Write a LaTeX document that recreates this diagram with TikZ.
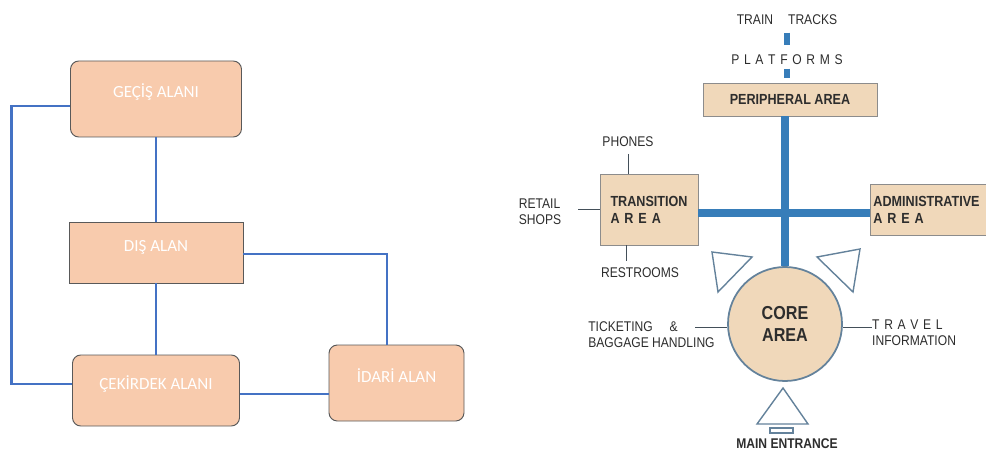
\documentclass[tikz,border=0pt]{standalone}
\usepackage{fontspec}
\usetikzlibrary{positioning,calc}
\newfontfamily\carlito{Carlito}
\newfontfamily\narsans[FakeStretch=0.86]{Liberation Sans}
\definecolor{peach}{RGB}{248,203,173}
\definecolor{sand}{RGB}{240,216,186}
\definecolor{linkblue}{RGB}{68,114,196}
\definecolor{spineblue}{RGB}{55,125,185}
\definecolor{inkgray}{RGB}{45,45,45}
\definecolor{edgegray}{RGB}{140,140,140}
\definecolor{trigray}{RGB}{100,130,155}
\newcommand{\pxl}{0.03cm}

\begin{document}
\begin{tikzpicture}[
  x=\pxl, y=-\pxl,
  alan/.style={draw=black!65,fill=peach,line width=0.8pt,text=white,
               font=\carlito\fontsize{14.5}{16}\selectfont,
               text height=0.33cm,text depth=0.39cm,inner sep=0pt},
  link/.style={draw=linkblue,line width=1.8pt},
  area/.style={draw=edgegray,fill=sand,line width=0.8pt,text=inkgray,
               font=\narsans\bfseries\fontsize{12.5}{14.5}\selectfont},
  lbl/.style={text=inkgray,font=\narsans\fontsize{12}{14}\selectfont,
              inner sep=0pt},
  spine/.style={draw=spineblue,line width=6pt},
  tie/.style={draw=inkgray!60!trigray,line width=0.8pt},
  door/.style={draw=trigray,line width=1.2pt,fill=white,line join=miter}
]
\clip (0,0) rectangle (986,455);

% left: Turkish scheme
\node[alan,rounded corners=0.25cm,minimum width=171*\pxl,minimum height=76*\pxl]
      (gecis) at (156,99) {GEÇİŞ ALANI};
\node[alan,minimum width=174*\pxl,minimum height=61*\pxl]
      (dis) at (156,252.5) {DIŞ ALAN};
\node[alan,rounded corners=0.25cm,minimum width=167*\pxl,minimum height=71*\pxl]
      (cek) at (156,390.5) {ÇEKİRDEK ALANI};
\node[alan,rounded corners=0.25cm,minimum width=135*\pxl,minimum height=76*\pxl]
      (idari) at (396.5,383) {İDARİ ALAN};
\draw[link] (gecis) -- (dis);
\draw[link] (dis) -- (cek);
\draw[link] ($(gecis.west)+(0,7)$) -- ++(-58.5,0) |- ($(cek.west)+(0,-6.5)$);
\draw[link] ($(dis.east)+(0,1.5)$) -| ($(idari.north)+(-9.5,0)$);
\draw[link] ($(cek.east)+(0,3.5)$) -- ($(idari.west)+(0,11)$);

% right: station scheme
\node[lbl] (tracks) at (787,20) {TRAIN\hspace{0.45cm}TRACKS};
\node[lbl] (platforms) at (787,60) {P\,\,L\,\,A\,\,T\,\,F\,\,O\,\,R\,\,M\,\,S};
\node[area,minimum width=174*\pxl,minimum height=33*\pxl]
      (peri) at (790,99.5) {PERIPHERAL AREA};
\node[area,align=left,minimum width=98*\pxl,minimum height=71*\pxl]
      (trans) at (649,209.5) {TRANSITION\\A\,\,R\,\,E\,\,A};
\node[area,anchor=west,align=left,text width=134*\pxl,inner xsep=3*\pxl,
      minimum height=51*\pxl] (admin) at (870,209.5)
      {ADMINISTRATIVE\\A\,\,R\,\,E\,\,A};
\node[circle,draw=trigray,line width=1.5pt,fill=sand,minimum size=114*\pxl,
      inner sep=0pt,align=center,text=inkgray,
      font=\narsans\bfseries\fontsize{16}{19}\selectfont] (core) at (785,324)
      {CORE\\AREA};

\draw[spine,line width=5pt,shorten <=0.22cm,shorten >=0.28cm]
      (tracks.south) -- (tracks.south |- platforms.north);
\draw[spine,line width=5pt,shorten <=0.1cm,shorten >=0.15cm]
      (platforms.south) -- (platforms.south |- peri.north);
\draw[spine] (core.north) -- (core.north |- peri.south);
\draw[spine] ($(trans.east)+(0,3.5)$) -- ($(admin.west)+(0,3.5)$);

\node[lbl] (phones) at (628,142) {PHONES};
\node[lbl,align=left] (retail) at (540,212) {RETAIL\\SHOPS};
\node[lbl] (restrooms) at (640,273) {RESTROOMS};
\coordinate (rsx) at ($(trans.south)+(-23,0)$);
\draw[tie,shorten <=0.2cm] (phones.south) -- (phones.south |- trans.north);
\draw[tie,shorten >=0.5cm] (trans.west) -- (trans.west -| retail.east);
\draw[tie,shorten >=0.2cm] (rsx) -- (rsx |- restrooms.north);

\node[lbl,align=left] (ticket) at (651.5,334.5)
      {TICKETING\hspace{0.5cm}\&\\BAGGAGE HANDLING};
\node[lbl,align=left,anchor=west] (travel) at (872,333)
      {T\,\,R\,\,A\,\,V\,\,E\,\,L\\INFORMATION};
\coordinate (tkend) at (695,327);
\draw[tie] (tkend) -- (tkend -| core.west);
\draw[tie] (core.east |- tkend) -- (travel.west |- tkend);

\draw[door] (712,252) -- (752,257) -- (718,292) -- cycle;
\draw[door] (860,249) -- (817,257) -- (853,292) -- cycle;
\draw[door] (783,388) -- (757,424) -- (808,424) -- cycle;
\draw[door] (770,428) rectangle (793,433);
\node[lbl,font=\narsans\bfseries\fontsize{12}{14}\selectfont]
      (entrance) at (787,444) {MAIN ENTRANCE};
\end{tikzpicture}
\end{document}
